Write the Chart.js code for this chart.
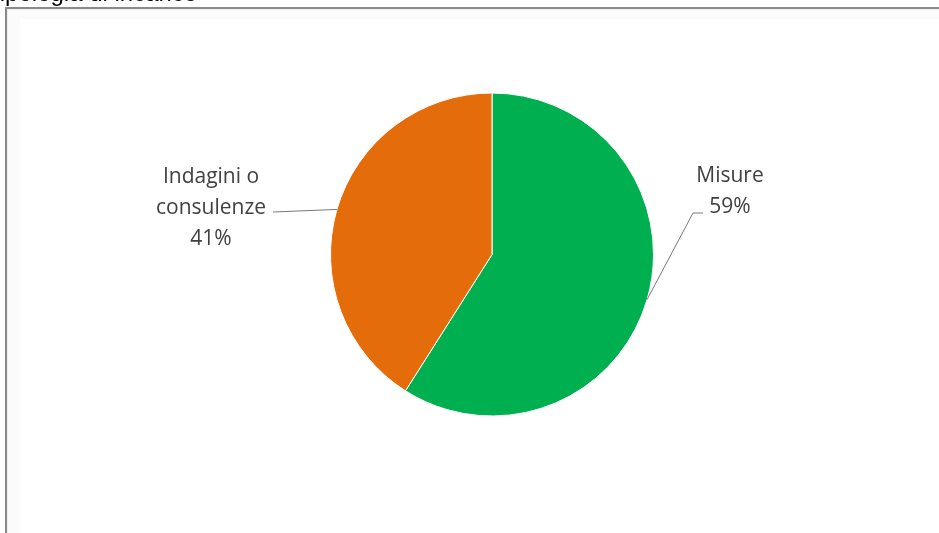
<!DOCTYPE html>
<html>
<head>
<meta charset="utf-8">
<script src="https://cdn.jsdelivr.net/npm/chart.js@4/dist/chart.umd.min.js"></script>
<style>
  html, body { margin: 0; padding: 0; background: #fff; }
  #wrap { width: 939px; height: 533px; position: relative; }
</style>
</head>
<body>
<div id="wrap"><canvas id="c" width="939" height="533"></canvas></div>
<script>
const categories = ["Misure", "Indagini o consulenze"];
const labelLines = [["Misure"], ["Indagini o", "consulenze"]];
const values = [59, 41];
const sliceColors = ["#00B050", "#E46C0A"];
const titleText = "Tipologia di incarico";

const total = values.reduce((a, b) => a + b, 0);

const framePlugin = {
  id: 'frame',
  beforeDraw(chart) {
    const ctx = chart.ctx;
    ctx.save();
    ctx.fillStyle = '#ffffff';
    ctx.fillRect(0, 0, chart.width, chart.height);
    // cropped title
    ctx.fillStyle = '#000000';
    ctx.font = '24px "Liberation Sans", Arial, sans-serif';
    ctx.textBaseline = 'alphabetic';
    ctx.textAlign = 'left';
    ctx.fillText(titleText, -14, 1);
    // soft shadow
    ctx.fillStyle = '#fbfbfb';
    ctx.fillRect(7, 9, chart.width, 10);
    ctx.fillRect(7, 9, 13, chart.height);
    ctx.fillStyle = '#eeeeee';
    ctx.fillRect(7, 9, chart.width, 1);
    ctx.fillRect(7, 9, 1, chart.height);
    // frame lines
    ctx.fillStyle = '#8a8a8a';
    ctx.fillRect(5, 7, chart.width, 2);
    ctx.fillRect(5, 7, 2, chart.height);
    ctx.restore();
  }
};

const labelPlugin = {
  id: 'outLabels',
  afterDatasetsDraw(chart, args, opts) {
    const ctx = chart.ctx;
    const meta = chart.getDatasetMeta(0);
    ctx.save();
    meta.data.forEach((arc, i) => {
      const p = opts.place[i];
      const cx = arc.x, cy = arc.y, r = arc.outerRadius;
      const mid = (arc.startAngle + arc.endAngle) / 2;
      const sx = cx + Math.cos(mid) * r;
      const sy = cy + Math.sin(mid) * r;
      ctx.strokeStyle = '#7a7a7a';
      ctx.lineWidth = 1;
      ctx.beginPath();
      ctx.moveTo(sx, sy);
      p.path.forEach(pt => ctx.lineTo(cx + pt[0], cy + pt[1]));
      ctx.stroke();
      const pct = Math.round(values[i] / total * 100) + '%';
      const lines = labelLines[i].concat([pct]);
      ctx.fillStyle = '#404040';
      ctx.font = '21px "Open Sans", sans-serif';
      ctx.textAlign = 'center';
      ctx.textBaseline = 'alphabetic';
      lines.forEach((t, k) => {
        ctx.fillText(t, cx + p.tx, cy + p.ty + k * 31);
      });
    });
    ctx.restore();
  }
};

new Chart(document.getElementById('c'), {
  type: 'pie',
  data: {
    labels: categories,
    datasets: [{
      data: values,
      backgroundColor: sliceColors,
      borderColor: '#ffffff',
      borderWidth: 1
    }]
  },
  options: {
    responsive: false,
    animation: false,
    layout: { padding: { left: 330, right: 285, top: 92.5, bottom: 116.5 } },
    plugins: {
      legend: { display: false },
      tooltip: { enabled: false },
      outLabels: {
        place: [
          { tx: 238, ty: -72.5, path: [[201, -41.5], [211, -41.5]] },
          { tx: -281, ty: -71.5, path: [[-219, -42.5]] }
        ]
      }
    }
  },
  plugins: [framePlugin, labelPlugin]
});
</script>
</body>
</html>
